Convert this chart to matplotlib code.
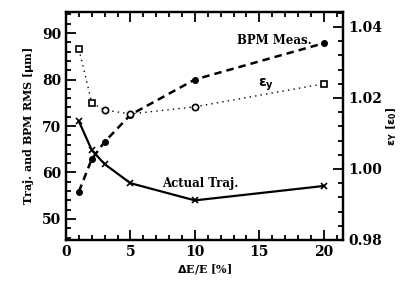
import numpy as np
import matplotlib
matplotlib.use("Agg")
import matplotlib.pyplot as plt
from matplotlib.ticker import MultipleLocator

# === Data ===
de_e = [1, 2, 3, 5, 10, 20]                          # dE/E [%]
traj_rms = [71.0, 64.8, 61.8, 57.7, 54.0, 57.1]      # actual trajectory RMS [um]
bpm_rms = [55.9, 62.9, 66.6, 72.4, 80.0, 87.8]       # BPM measured RMS [um]
eps_y = [1.0338, 1.0186, 1.0166, 1.0155, 1.0175, 1.0240]  # emittance [eps0]
eps_markers = ["s", "s", "o", "o", "o", "s"]

plt.rcParams["font.family"] = ["DejaVu Serif"]
plt.rcParams["font.weight"] = "bold"
plt.rcParams["mathtext.default"] = "bf"

fig = plt.figure(figsize=(4.05, 2.88), dpi=100)
ax = fig.add_axes([0.163, 0.167, 0.684, 0.791])
ax2 = ax.twinx()

# --- left axis: trajectory and BPM ---
ax.plot(de_e, traj_rms, color="black", lw=1.6, marker="x", ms=4, mew=1.2)
ax.plot(de_e, bpm_rms, color="black", lw=1.8, ls=(0, (3, 2)), marker="o", ms=4)

# --- right axis: emittance ---
ax2.plot(de_e, eps_y, color="black", lw=1.0, ls=(0, (1, 3)))
for x, y, m in zip(de_e, eps_y, eps_markers):
    ax2.plot(x, y, marker=m, ms=4.5, mfc="white", mec="black", mew=1.2, color="black")

ax.set_xlim(0.0, 21.5)
ax.set_ylim(45.5, 94.5)
ax2.set_ylim(0.98, 1.0442)

ax.xaxis.set_major_locator(MultipleLocator(5))
ax.xaxis.set_minor_locator(MultipleLocator(1))
ax.yaxis.set_major_locator(MultipleLocator(10))
ax.yaxis.set_minor_locator(MultipleLocator(2))
ax2.yaxis.set_major_locator(MultipleLocator(0.02))
ax2.yaxis.set_minor_locator(MultipleLocator(0.004))
ax2.yaxis.set_major_formatter(plt.FuncFormatter(lambda v, p: f"{v:.2f}"))

for a in (ax, ax2):
    a.tick_params(which="both", direction="in", width=1.3, labelsize=10)
    a.tick_params(which="major", length=7)
    a.tick_params(which="minor", length=3.5)
    for s in a.spines.values():
        s.set_linewidth(1.6)
ax.tick_params(which="both", top=True, right=False)
ax2.tick_params(which="both", left=False, right=True)

ax.set_xlabel(r"$\Delta$E/E [%]", fontsize=8, fontweight="bold", labelpad=2)
ax.set_ylabel(r"Traj. and BPM RMS [$\mu$m]", fontsize=8, fontweight="bold", labelpad=4)
ax2.set_ylabel(r"$\epsilon_Y$ [$\epsilon_0$]", fontsize=8, fontweight="bold", labelpad=2,
               rotation=90)

ax.text(16.2, 88.3, "BPM Meas.", fontsize=8.5, fontweight="bold", ha="center", va="center")
ax.text(15.5, 78.8, r"$\epsilon_y$", fontsize=10, fontweight="bold", ha="center", va="center")
ax.text(10.4, 57.7, "Actual Traj.", fontsize=8.5, fontweight="bold", ha="center", va="center")

fig.savefig("out.png", dpi=100)
